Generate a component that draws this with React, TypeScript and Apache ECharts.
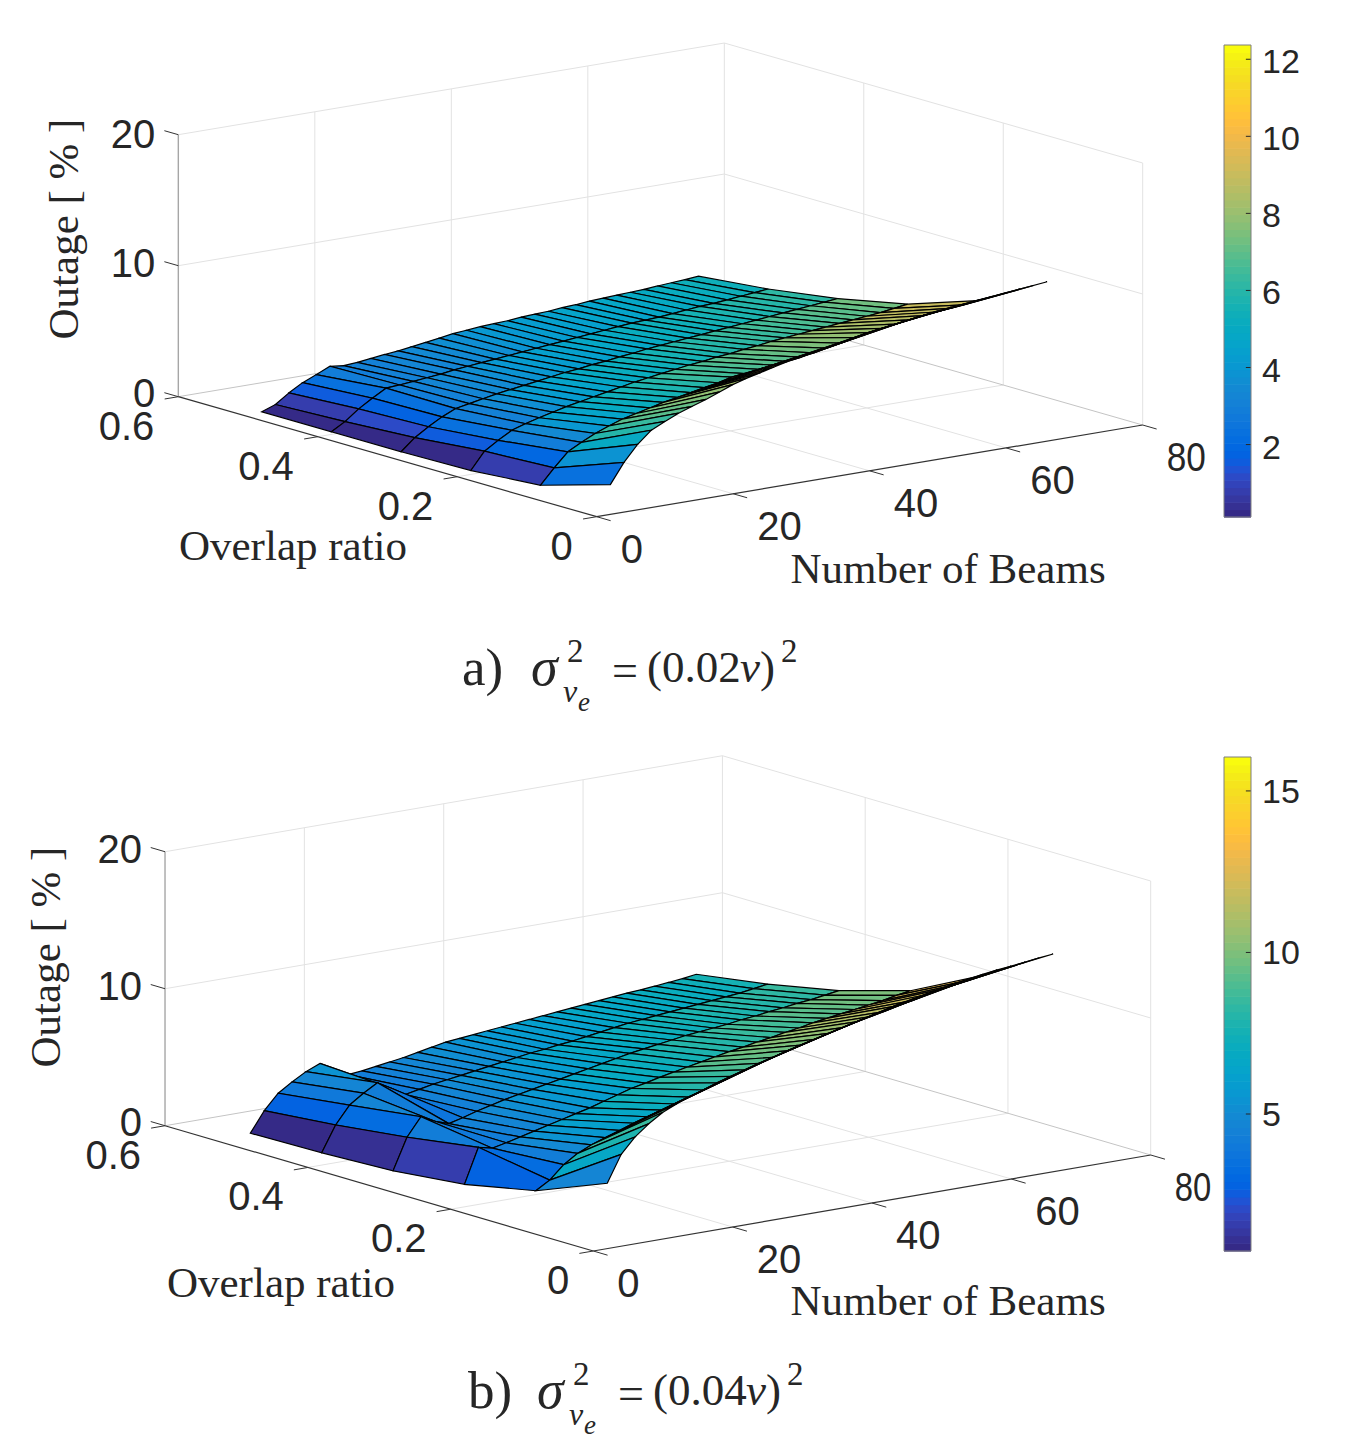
import { useEffect, useRef } from "react";
import * as echarts from "echarts";

const beams = [2, 4, 6, 8, 10, 12, 14, 16, 18, 20, 22, 24, 26, 28, 30, 32, 34, 36, 38, 40, 42, 44, 46, 48, 50, 52, 54, 56, 58, 60, 62, 64, 66];
const overlaps = [0, 0.1, 0.2, 0.3, 0.4, 0.5];

const beamTicks = [0, 20, 40, 60, 80];
const overlapTicks = [0, 0.2, 0.4, 0.6];
const outageTicks = [0, 10, 20];

// panel a, one list per overlap ratio
const outageA00 = [2.27, 3.8, 5.0, 5.9, 6.4, 6.85, 7.2, 7.55, 7.95, 8.35, 8.65, 8.9, 9.15, 9.4, 9.55, 9.8, 10.0, 10.2, 10.4, 10.6, 10.75, 10.9, 11.05, 11.2, 11.35, 11.45, 11.55, 11.65, 11.75, 11.85, 11.95, 12.05, 12.16];
const outageA01 = [0.7, 1.85, 2.9, 3.45, 3.95, 4.35, 4.7, 4.95, 5.2, 5.45, 5.65, 5.85, 6.05, 6.25, 6.5, 6.6, 6.75, 6.9, 7.0, 7.15, 7.3, 7.5, 7.7, 7.95, 8.15, 8.3, 8.45, 8.6, 8.75, 8.85, 8.95, 9.05, 9.2];
const outageA02 = [0.3, 1.6, 2.25, 2.84, 3.17, 3.45, 3.7, 3.95, 4.15, 4.35, 4.55, 4.75, 4.95, 5.1, 5.26, 5.4, 5.55, 5.65, 5.8, 5.9, 6.05, 6.15, 6.3, 6.4, 6.5, 6.6, 6.7, 6.8, 6.9, 7.0, 7.1, 7.25, 7.4];
const outageA03 = [0.2, 1.1, 1.76, 2.34, 2.8, 3.0, 3.2, 3.4, 3.55, 3.7, 3.85, 4.0, 4.15, 4.25, 4.4, 4.5, 4.65, 4.75, 4.9, 5.0, 5.1, 5.2, 5.3, 5.4, 5.5, 5.6, 5.7, 5.8, 5.9, 6.0, 6.1, 6.2, 6.3];
const outageA04 = [0.2, 0.8, 1.6, 2.24, 2.83, 2.9, 3.0, 3.1, 3.2, 3.35, 3.45, 3.55, 3.65, 3.75, 3.85, 3.95, 4.05, 4.15, 4.25, 4.35, 4.45, 4.55, 4.65, 4.7, 4.75, 4.85, 4.95, 5.05, 5.1, 5.2, 5.3, 5.4, 5.5];
const outageA05 = [0.2, 0.58, 1.3, 1.9, 2.34, 2.8, 2.67, 2.75, 2.87, 3.0, 3.1, 3.25, 3.4, 3.55, 3.72, 3.8, 3.9, 3.95, 4.0, 4.1, 4.15, 4.2, 4.3, 4.35, 4.45, 4.5, 4.55, 4.6, 4.65, 4.73, 4.8, 4.87, 4.95];

// panel b
const outageB00 = [4.77, 6.7, 7.8, 8.6, 9.25, 9.7, 10.1, 10.4, 10.7, 11.0, 11.3, 11.6, 11.9, 12.2, 12.45, 12.7, 12.95, 13.2, 13.45, 13.7, 13.95, 14.2, 14.4, 14.6, 14.8, 15.0, 15.15, 15.3, 15.45, 15.55, 15.65, 15.8, 15.9];
const outageB01 = [2.7, 3.3, 4.25, 4.9, 5.35, 5.7, 6.05, 6.4, 6.7, 7.0, 7.28, 7.6, 7.95, 8.3, 8.6, 8.9, 9.2, 9.45, 9.75, 10.0, 10.25, 10.5, 10.75, 11.0, 11.2, 11.4, 11.65, 11.85, 12.1, 12.3, 12.45, 12.6, 12.8];
const outageB02 = [1.64, 4.17, 3.93, 4.15, 4.4, 4.65, 4.9, 5.15, 5.4, 5.65, 5.95, 6.25, 6.55, 6.75, 7.0, 7.2, 7.4, 7.6, 7.8, 8.0, 8.15, 8.35, 8.5, 8.7, 8.85, 9.05, 9.2, 9.35, 9.5, 9.65, 9.8, 10.0, 10.17];
const outageB03 = [1.1, 3.38, 4.7, 4.2, 3.85, 4.1, 4.4, 4.65, 4.9, 5.1, 5.3, 5.5, 5.7, 5.9, 6.1, 6.3, 6.5, 6.7, 6.85, 7.0, 7.15, 7.3, 7.4, 7.5, 7.6, 7.75, 7.85, 8.0, 8.1, 8.25, 8.35, 8.5, 8.65];
const outageB04 = [0.9, 2.75, 4.03, 4.72, 5.31, 4.73, 4.1, 4.3, 4.5, 4.65, 4.8, 4.95, 5.1, 5.25, 5.4, 5.55, 5.65, 5.8, 5.9, 6.05, 6.2, 6.35, 6.5, 6.6, 6.7, 6.8, 6.9, 7.0, 7.1, 7.2, 7.3, 7.45, 7.6];
const outageB05 = [0.8, 2.27, 3.37, 4.03, 4.6, 5.02, 3.85, 3.85, 3.95, 4.1, 4.25, 4.4, 4.6, 4.8, 5.0, 5.1, 5.2, 5.3, 5.4, 5.5, 5.6, 5.7, 5.8, 5.9, 6.0, 6.1, 6.2, 6.3, 6.36, 6.45, 6.55, 6.65, 6.8];

const colorTicksA = [2, 4, 6, 8, 10, 12];
const colorTicksB = [5, 10, 15];

// MATLAB parula, 64 steps
const parula = [
  [0.2081, 0.1663, 0.5292], [0.2116, 0.1898, 0.5777], [0.2123, 0.2138, 0.627], [0.2081, 0.2386, 0.6771],
  [0.1959, 0.2645, 0.7279], [0.1707, 0.2919, 0.7792], [0.1253, 0.3242, 0.8303], [0.0591, 0.3598, 0.8683],
  [0.0117, 0.3875, 0.882], [0.006, 0.4086, 0.8828], [0.0165, 0.4266, 0.8786], [0.0329, 0.443, 0.872],
  [0.0498, 0.4586, 0.8641], [0.0629, 0.4737, 0.8554], [0.0723, 0.4887, 0.8467], [0.0779, 0.504, 0.8384],
  [0.0793, 0.52, 0.8312], [0.0749, 0.5375, 0.8263], [0.0641, 0.557, 0.824], [0.0488, 0.5772, 0.8228],
  [0.0343, 0.5966, 0.8199], [0.0265, 0.6137, 0.8135], [0.0239, 0.6287, 0.8038], [0.0231, 0.6418, 0.7913],
  [0.0228, 0.6535, 0.7768], [0.0267, 0.6642, 0.7607], [0.0384, 0.6743, 0.7436], [0.059, 0.6838, 0.7254],
  [0.0843, 0.6928, 0.7062], [0.1133, 0.7015, 0.6859], [0.1453, 0.7098, 0.6646], [0.1801, 0.7177, 0.6424],
  [0.2178, 0.725, 0.6193], [0.2586, 0.7317, 0.5954], [0.3022, 0.7376, 0.5712], [0.3482, 0.7424, 0.5473],
  [0.3953, 0.7459, 0.5244], [0.442, 0.7481, 0.5033], [0.4871, 0.7491, 0.484], [0.53, 0.7491, 0.4661],
  [0.5709, 0.7485, 0.4494], [0.6099, 0.7473, 0.4337], [0.6473, 0.7456, 0.4188], [0.6834, 0.7435, 0.4044],
  [0.7184, 0.7411, 0.3905], [0.7525, 0.7384, 0.3768], [0.7858, 0.7356, 0.3633], [0.8185, 0.7327, 0.3498],
  [0.8507, 0.7299, 0.336], [0.8824, 0.7274, 0.3217], [0.9139, 0.7258, 0.3063], [0.945, 0.7261, 0.2886],
  [0.9739, 0.7314, 0.2666], [0.9938, 0.7455, 0.2403], [0.999, 0.7653, 0.2164], [0.9955, 0.7861, 0.1967],
  [0.988, 0.8066, 0.1794], [0.9789, 0.8271, 0.1633], [0.9697, 0.8481, 0.1475], [0.9626, 0.8705, 0.1309],
  [0.9589, 0.8949, 0.1132], [0.9598, 0.9218, 0.0948], [0.9661, 0.9514, 0.0755], [0.9763, 0.9831, 0.0538],
].map(([r, g, b]) => `rgb(${Math.round(r * 255)},${Math.round(g * 255)},${Math.round(b * 255)})`);

const SANS = "'Liberation Sans', Arial, sans-serif";
const SERIF = "'Liberation Serif', 'Times New Roman', serif";
const INK = "#262626";

const panelA = {
  rows: [outageA00, outageA01, outageA02, outageA03, outageA04, outageA05],
  ox: 596.7, oy: 516.7, bx: 6.825, by: -1.146, rx: -697.3, ry: -200, zs: 13.1,
  clim: [0.12, 12.37], colorTicks: colorTicksA,
  barTop: 45, barHeight: 472, barLabelDy: 2, lastBeamScale: 0.88,
  zLabelBase: -4, zLabelSlope: 0.175,
  overlapTitle: [293, 545], beamTitle: [948, 568], outageTitle: [63, 229],
  captionDx: 0, captionDy: 0, label: "a)", sigma: "(0.02",
};
const panelB = {
  rows: [outageB00, outageB01, outageB02, outageB03, outageB04, outageB05],
  ox: 593.3, oy: 1251, bx: 6.9675, by: -1.2, rx: -713.8, ry: -208.8, zs: 13.7,
  clim: [0.76, 16.05], colorTicks: colorTicksB,
  barTop: 757, barHeight: 494, barLabelDy: 0, lastBeamScale: 0.82,
  zLabelBase: -3.5, zLabelSlope: 0.05,
  overlapTitle: [281, 1282], beamTitle: [948, 1300], outageTitle: [45, 957],
  captionDx: 6, captionDy: 723, label: "b)", sigma: "(0.04",
};
type Panel = typeof panelA;

const project = (p: Panel, b: number, r: number, z: number) => [
  p.ox + b * p.bx + r * p.rx,
  p.oy + b * p.by + r * p.ry - z * p.zs,
];

const colorOf = (p: Panel, z: number) => {
  const t = (z - p.clim[0]) / (p.clim[1] - p.clim[0]);
  return parula[Math.max(0, Math.min(63, Math.floor(t * 64)))];
};

// straight lines given by their 3D end points
const lineSeries = (p: Panel, segs: number[][], color: string, width: number) => ({
  type: "custom",
  coordinateSystem: "cartesian2d",
  xAxisIndex: 0,
  yAxisIndex: 0,
  silent: true,
  clip: false,
  data: segs,
  encode: { x: 0, y: 1 },
  renderItem: (params: any, api: any) => {
    const s = segs[params.dataIndex];
    const a = api.coord(project(p, s[0], s[1], s[2]));
    const c = api.coord(project(p, s[3], s[4], s[5]));
    return {
      type: "line",
      shape: { x1: a[0], y1: a[1], x2: c[0], y2: c[1] },
      style: { stroke: color, lineWidth: width },
    };
  },
});

const surfaceSeries = (p: Panel) => {
  // back to front so nearer facets cover the farther ones
  const quads: number[][] = [];
  for (let i = overlaps.length - 2; i >= 0; i--) {
    for (let j = beams.length - 2; j >= 0; j--) quads.push([j, i]);
  }
  return {
    type: "custom",
    coordinateSystem: "cartesian2d",
    xAxisIndex: 0,
    yAxisIndex: 0,
    silent: true,
    clip: false,
    data: quads,
    encode: { x: 0, y: 1 },
    renderItem: (params: any, api: any) => {
      const [j, i] = quads[params.dataIndex];
      const corners = [[j, i], [j + 1, i], [j + 1, i + 1], [j, i + 1]];
      const points = corners.map(([bj, ri]) =>
        api.coord(project(p, beams[bj], overlaps[ri], p.rows[ri][bj])),
      );
      return {
        type: "polygon",
        shape: { points },
        style: { fill: colorOf(p, p.rows[i][j]), stroke: "#000", lineWidth: 1.2 },
      };
    },
  };
};

const axesSeries = (p: Panel) => {
  const grid: number[][] = [];
  beamTicks.slice(1).forEach((b) => grid.push([b, 0.6, 0, b, 0.6, 20]));
  overlapTicks.slice(0, 3).forEach((r) => grid.push([80, r, 0, 80, r, 20]));
  outageTicks.slice(1).forEach((z) => {
    grid.push([0, 0.6, z, 80, 0.6, z]);
    grid.push([80, 0.6, z, 80, 0, z]);
  });
  beamTicks.slice(1, 4).forEach((b) => grid.push([b, 0, 0, b, 0.6, 0]));
  overlapTicks.slice(1, 3).forEach((r) => grid.push([0, r, 0, 80, r, 0]));

  const backEdges = [[0, 0.6, 0, 80, 0.6, 0], [80, 0.6, 0, 80, 0, 0]];
  const zAxis = [[0, 0.6, 0, 0, 0.6, 20]];
  const axes = [[0, 0, 0, 0, 0.6, 0], [0, 0, 0, 80, 0, 0]];
  const ticks: number[][] = [];
  overlapTicks.forEach((r) => ticks.push([0, r, 0, -2, r, 0]));
  beamTicks.forEach((b) => ticks.push([b, 0, 0, b, -0.02, 0]));
  outageTicks.forEach((z) => ticks.push([0, 0.6, z, 0, 0.62, z]));

  return [
    lineSeries(p, grid, "#e2e2e2", 1),
    lineSeries(p, backEdges, "#c4c4c4", 1),
    lineSeries(p, zAxis, "#a6a6a6", 1.4),
    lineSeries(p, axes, "#333333", 1.2),
    lineSeries(p, ticks, "#333333", 1),
  ];
};

const colorbarSeries = (p: Panel, gridIndex: number) => {
  const [lo, hi] = p.clim;
  const step = (hi - lo) / parula.length;
  const cells = parula.map((_, i) => [i, lo + i * step]);
  const ticks = p.colorTicks.map((v) => [1, v]);
  const base = {
    type: "custom",
    coordinateSystem: "cartesian2d",
    xAxisIndex: gridIndex,
    yAxisIndex: gridIndex,
    silent: true,
    clip: false,
  };
  return [
    {
      ...base,
      data: cells,
      encode: { x: 0, y: 1 },
      renderItem: (params: any, api: any) => {
        const i = params.dataIndex;
        const a = api.coord([0, lo + (i + 1) * step]);
        const c = api.coord([1, lo + i * step]);
        return {
          type: "rect",
          shape: { x: a[0], y: a[1], width: c[0] - a[0], height: c[1] - a[1] + 0.6 },
          style: { fill: parula[i] },
        };
      },
    },
    {
      // short ticks sit on top of the colours, inside the right edge, with their labels beside
      ...base,
      data: ticks,
      encode: { x: 0, y: 1 },
      renderItem: (params: any, api: any) => {
        const v = ticks[params.dataIndex][1];
        const a = api.coord([0.81, v]);
        const c = api.coord([1, v]);
        return {
          type: "group",
          children: [
            {
              type: "line",
              shape: { x1: a[0], y1: a[1], x2: c[0], y2: c[1] },
              style: { stroke: "#262626", lineWidth: 1 },
            },
            {
              type: "text",
              x: c[0] + 11,
              y: c[1] + p.barLabelDy,
              style: {
                text: String(v),
                fill: INK,
                fontFamily: SANS,
                fontSize: 34,
                align: "left",
                verticalAlign: "middle",
                textAlign: "left",
                textVerticalAlign: "middle",
              },
            },
          ],
        };
      },
    },
    {
      ...base,
      data: [[0, lo]],
      encode: { x: 0, y: 1 },
      renderItem: (_: any, api: any) => {
        const a = api.coord([0, hi]);
        const c = api.coord([1, lo]);
        return {
          type: "rect",
          shape: { x: a[0], y: a[1], width: c[0] - a[0], height: c[1] - a[1] },
          style: { fill: "none", stroke: "#7f7f7f", lineWidth: 1 },
        };
      },
    },
  ];
};

const colorbarAxes = (p: Panel, gridIndex: number) => ({
  grid: { left: 1224, width: 27, top: p.barTop, height: p.barHeight },
  xAxis: { type: "value", gridIndex, min: 0, max: 1, show: false },
  yAxis: { type: "value", gridIndex, min: p.clim[0], max: p.clim[1], show: false },
});

const txt = (text: string, x: number, y: number, size: number, extra: any = {}) => {
  const { font = SANS, italic = false, align = "left", rotation = 0, scaleX = 1 } = extra;
  return {
    type: "text",
    x,
    y,
    rotation,
    scaleX,
    silent: true,
    style: {
      text,
      fill: INK,
      fontFamily: font,
      fontSize: size,
      fontStyle: italic ? "italic" : "normal",
      align,
      verticalAlign: "middle",
      textAlign: align,
      textVerticalAlign: "middle",
    },
  };
};

const panelTexts = (p: Panel) => {
  const out: any[] = [];
  overlapTicks.forEach((r) => {
    const [x, y] = project(p, 0, r, 0);
    out.push(txt(String(r), x - 24, y + 28.8, 40, { align: "right" }));
  });
  beamTicks.forEach((b) => {
    const [x, y] = project(p, b, 0, 0);
    const scaleX = b === 80 ? p.lastBeamScale : 1;
    out.push(txt(String(b), x + 24, y + 32, 40, { scaleX }));
  });
  outageTicks.forEach((z) => {
    const [x, y] = project(p, 0, 0.6, z);
    out.push(txt(String(z), x - 23, y + p.zLabelBase + p.zLabelSlope * z, 40, { align: "right" }));
  });
  out.push(txt("Overlap ratio", p.overlapTitle[0], p.overlapTitle[1], 43, { font: SERIF, align: "center" }));
  out.push(txt("Number of Beams", p.beamTitle[0], p.beamTitle[1], 43, { font: SERIF, align: "center" }));
  out.push(txt("Outage [ % ]", p.outageTitle[0], p.outageTitle[1], 43, { font: SERIF, align: "center", rotation: Math.PI / 2 }));

  // caption under the panel
  const dx = p.captionDx;
  const dy = p.captionDy;
  out.push(txt(p.label, 462 + dx, 667 + dy, 53, { font: SERIF }));
  out.push(txt("σ", 531 + dx, 667 + dy, 54, { font: SERIF, italic: true }));
  out.push(txt("2", 567 + dx, 651 + dy, 33, { font: SERIF }));
  out.push(txt("v", 563 + dx, 691 + dy, 32, { font: SERIF, italic: true }));
  out.push(txt("e", 578 + dx, 702 + dy, 27, { font: SERIF, italic: true }));
  out.push(txt("=", 612 + dx, 670 + dy, 46, { font: SERIF }));
  out.push(txt(p.sigma, 647 + dx, 667 + dy, 45, { font: SERIF }));
  out.push(txt("v", 740 + dx, 667 + dy, 45, { font: SERIF, italic: true }));
  out.push(txt(")", 760 + dx, 667 + dy, 45, { font: SERIF }));
  out.push(txt("2", 781 + dx, 651 + dy, 33, { font: SERIF }));
  return out;
};

const App = () => {
  const chartRef = useRef<HTMLDivElement | null>(null);

  useEffect(() => {
    if (!chartRef.current) return;
    const chart = echarts.init(chartRef.current, null, { renderer: "svg" });
    const barA = colorbarAxes(panelA, 1);
    const barB = colorbarAxes(panelB, 2);
    chart.setOption({
      animation: false,
      backgroundColor: "#ffffff",
      grid: [{ left: 0, top: 0, width: 1364, height: 1448 }, barA.grid, barB.grid],
      // axes 0 hold the page plane the 3D boxes are projected on
      xAxis: [{ type: "value", min: 0, max: 1364, show: false }, barA.xAxis, barB.xAxis],
      yAxis: [{ type: "value", min: 0, max: 1448, inverse: true, show: false }, barA.yAxis, barB.yAxis],
      series: [
        ...axesSeries(panelA),
        surfaceSeries(panelA),
        ...colorbarSeries(panelA, 1),
        ...axesSeries(panelB),
        surfaceSeries(panelB),
        ...colorbarSeries(panelB, 2),
      ],
      graphic: { elements: [...panelTexts(panelA), ...panelTexts(panelB)] },
    });
    return () => {
      chart.dispose();
    };
  }, []);

  return <div ref={chartRef} style={{ position: "absolute", left: 0, top: 0, width: 1364, height: 1448 }} />;
};

export default App;
